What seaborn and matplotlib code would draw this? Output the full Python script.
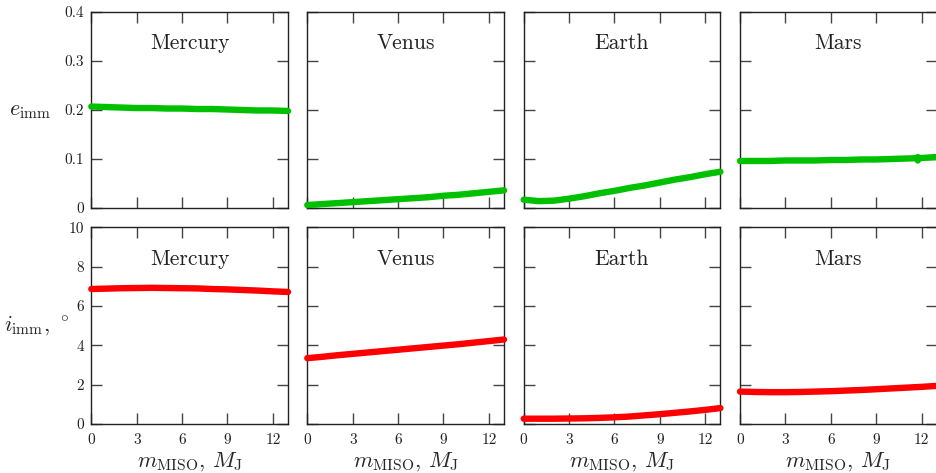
import numpy as np
import pandas as pd
import matplotlib
matplotlib.use("Agg")
import matplotlib.pyplot as plt
import seaborn as sns

# ---- data ----
planets = ["Mercury", "Venus", "Earth", "Mars"]
m_miso = [0, 1, 2, 3, 4, 5, 6, 7, 8, 9, 10, 11, 12, 13]

e_mercury = [0.207, 0.206, 0.205, 0.204, 0.204, 0.203, 0.203, 0.202, 0.202, 0.201, 0.200, 0.199, 0.199, 0.198]
e_venus   = [0.006, 0.008, 0.010, 0.012, 0.014, 0.016, 0.018, 0.020, 0.022, 0.025, 0.027, 0.030, 0.033, 0.036]
e_earth   = [0.017, 0.014, 0.015, 0.019, 0.024, 0.030, 0.035, 0.041, 0.046, 0.052, 0.058, 0.063, 0.069, 0.074]
e_mars    = [0.096, 0.096, 0.096, 0.097, 0.097, 0.097, 0.098, 0.098, 0.099, 0.099, 0.100, 0.101, 0.102, 0.104]
# small glitch in the Mars eccentricity curve near m = 11.75
mars_glitch_x = [11.7, 11.75, 11.75, 11.8]
mars_glitch_e = [0.101, 0.104, 0.097, 0.101]

i_mercury = [6.87, 6.89, 6.91, 6.92, 6.93, 6.92, 6.91, 6.90, 6.87, 6.85, 6.82, 6.79, 6.75, 6.72]
i_venus   = [3.35, 3.42, 3.50, 3.57, 3.64, 3.71, 3.78, 3.85, 3.92, 3.99, 4.06, 4.14, 4.22, 4.30]
i_earth   = [0.27, 0.27, 0.27, 0.28, 0.29, 0.31, 0.34, 0.38, 0.44, 0.50, 0.57, 0.64, 0.72, 0.81]
i_mars    = [1.65, 1.63, 1.62, 1.62, 1.63, 1.65, 1.67, 1.70, 1.73, 1.77, 1.81, 1.85, 1.89, 1.94]

e_data = {"Mercury": e_mercury, "Venus": e_venus, "Earth": e_earth, "Mars": e_mars}
i_data = {"Mercury": i_mercury, "Venus": i_venus, "Earth": i_earth, "Mars": i_mars}

e_ticks = [0, 0.1, 0.2, 0.3, 0.4]
e_ticklabels = ["0", "0.1", "0.2", "0.3", "0.4"]
i_ticks = [0, 2, 4, 6, 8, 10]
i_ticklabels = ["0", "2", "4", "6", "8", "10"]
x_ticks = [0, 3, 6, 9, 12]
x_ticklabels = ["0", "3", "6", "9", "12"]

GREEN = "#00c000"
RED = "#ff0000"

# ---- style ----
sns.set_theme(style="ticks")
plt.rcParams.update({
    "font.family": "serif",
    "font.serif": ["cmr10", "DejaVu Serif"],
    "mathtext.fontset": "cm",
    "axes.unicode_minus": False,
    "axes.formatter.use_mathtext": True,
    "axes.edgecolor": "#222222",
    "axes.linewidth": 1.0,
    "xtick.direction": "in",
    "ytick.direction": "in",
    "xtick.major.size": 8,
    "ytick.major.size": 8,
    "xtick.major.width": 1.0,
    "ytick.major.width": 1.0,
    "xtick.color": "#444444",
    "ytick.color": "#444444",
    "xtick.labelcolor": "#222222",
    "ytick.labelcolor": "#222222",
})

fig = plt.figure(figsize=(9.37, 4.73), dpi=100)
W, H = 937.0, 473.0
lefts = [91.3, 307.3, 523.7, 740.0]
pw = 196.7
rows = [(12.0, 208.0), (227.5, 424.0)]

lw = 4.6
for r, (top, bot) in enumerate(rows):
    for c, p in enumerate(planets):
        ax = fig.add_axes([lefts[c] / W, 1 - bot / H, pw / W, (bot - top) / H])
        if r == 0:
            df = pd.DataFrame({"m": m_miso, "v": e_data[p]})
            color = GREEN
        else:
            df = pd.DataFrame({"m": m_miso, "v": i_data[p]})
            color = RED
        sns.lineplot(data=df, x="m", y="v", ax=ax, color=color, linewidth=lw,
                     solid_capstyle="round", solid_joinstyle="round",
                     clip_on=False, zorder=3, estimator=None, sort=False)
        if r == 0 and p == "Mars":
            gdf = pd.DataFrame({"m": mars_glitch_x, "v": mars_glitch_e})
            sns.lineplot(data=gdf, x="m", y="v", ax=ax, color=color, linewidth=lw,
                         solid_capstyle="round", clip_on=False, zorder=3,
                         estimator=None, sort=False)
        ax.set_xlim(0, 13)
        ax.set_xticks(x_ticks)
        ax.tick_params(top=True, right=True, labelsize=11, pad=5)
        ax.tick_params(axis="x", pad=7)
        if r == 0:
            ax.set_ylim(0, 0.4)
            ax.set_yticks(e_ticks)
            ax.set_xticklabels([])
            ax.set_xlabel("")
        else:
            ax.set_ylim(0, 10)
            ax.set_yticks(i_ticks)
            ax.set_xticklabels(x_ticklabels)
            ax.set_xlabel(r"$m_\mathrm{MISO}$, $M_\mathrm{J}$", fontsize=16, labelpad=2)
        if c == 0:
            if r == 0:
                ax.set_yticklabels(e_ticklabels)
                ax.set_ylabel(r"$e_\mathrm{imm}$", fontsize=16, rotation=0, ha="center", va="center")
                ax.yaxis.set_label_coords((30 - lefts[0]) / pw, 1 - (111 - top) / (bot - top))
            else:
                ax.set_yticklabels(i_ticklabels)
                ax.set_ylabel(r"$i_\mathrm{imm}$, $^\circ$", fontsize=16, rotation=0, ha="center", va="center")
                ax.yaxis.set_label_coords((37 - lefts[0]) / pw, 1 - (325 - top) / (bot - top))
        else:
            ax.set_yticklabels([])
            ax.set_ylabel("")
        ax.text(0.5, 0.84, p, transform=ax.transAxes, ha="center", va="center",
                fontsize=15.5, color="#222222")

fig.savefig("out.png", dpi=100)
